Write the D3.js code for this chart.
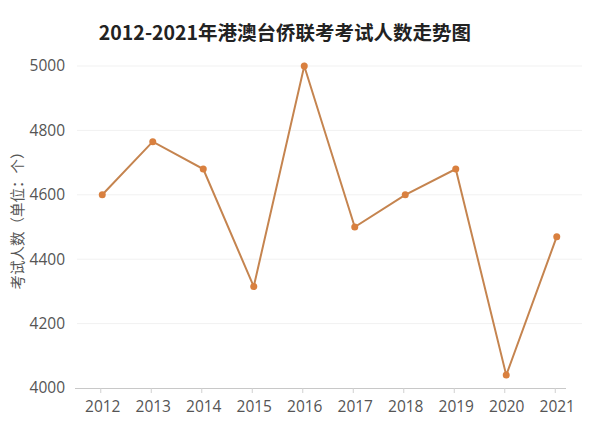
<!DOCTYPE html>
<html><head><meta charset="utf-8">
<script src="https://cdn.jsdelivr.net/npm/d3@7/dist/d3.min.js"></script>
<style>body{margin:0;background:#fff}svg{display:block}text{font-family:"Noto Sans CJK SC","Noto Sans",sans-serif}</style>
</head><body><svg id="c" width="600" height="424"></svg>
<script>
const years = ["2012","2013","2014","2015","2016","2017","2018","2019","2020","2021"];
const counts = [4600,4765,4680,4315,5000,4500,4600,4680,4040,4470];
const yTicks = [4000,4200,4400,4600,4800,5000];
const title = "2012-2021年港澳台侨联考考试人数走势图";
const yTitle = "考试人数（单位：个）";

const svg = d3.select("#c");
const x = d3.scalePoint().domain(years).range([77,582]).padding(0.5);
const y = d3.scaleLinear().domain([4000,5000]).range([388,66]);

svg.append("text").attr("x",285).attr("y",40).attr("text-anchor","middle")
  .attr("font-size",19.5).attr("font-weight","bold").attr("fill","#222").text(title);

// grid
svg.append("g").selectAll("line").data(yTicks.slice(1)).join("line")
  .attr("x1",77).attr("x2",582).attr("y1",d=>y(d)).attr("y2",d=>y(d))
  .attr("stroke","#f1f1f1").attr("stroke-width",1);

// y axis labels
const ya = svg.append("g").attr("transform","translate(69,0)")
  .call(d3.axisLeft(y).tickValues(yTicks).tickSize(0).tickPadding(4).tickFormat(d3.format("d")));
ya.select(".domain").remove();
ya.selectAll("text").attr("font-size",15.5).attr("fill","#555")
  .style("font-family","'Open Sans','Noto Sans',sans-serif");

// x axis
const xa = svg.append("g").attr("transform","translate(0,388)")
  .call(d3.axisBottom(x).tickSize(5).tickPadding(8).tickSizeOuter(0));
xa.select(".domain").attr("d","M75,0.5H566").attr("stroke","#c8c8c8");
xa.selectAll(".tick line").attr("stroke","#d0d0d0").attr("transform","translate(-2,0)");
xa.selectAll("text").attr("font-size",15.5).attr("fill","#555")
  .style("font-family","'Open Sans','Noto Sans',sans-serif");

svg.append("text").attr("transform","translate(23,217) rotate(-90)").attr("text-anchor","middle")
  .attr("font-size",14.5).attr("fill","#555").text(yTitle);

const data = years.map((d,i)=>({year:d,v:counts[i]}));
svg.append("path").datum(data)
  .attr("d",d3.line().x(d=>x(d.year)).y(d=>y(d.v)))
  .attr("fill","none").attr("stroke","#c5844f").attr("stroke-width",2);
svg.append("g").selectAll("circle").data(data).join("circle")
  .attr("cx",d=>x(d.year)).attr("cy",d=>y(d.v)).attr("r",3.5).attr("fill","#d9803f");
</script></body></html>
